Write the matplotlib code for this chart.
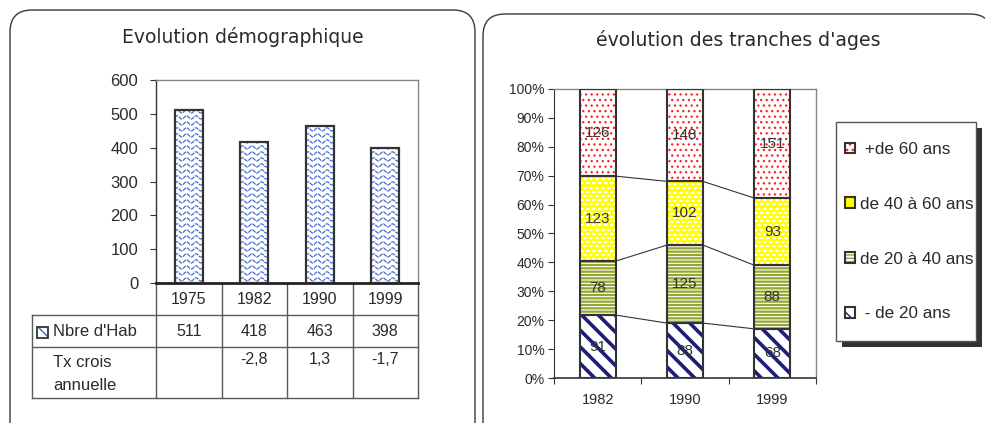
import numpy as np
import matplotlib
matplotlib.use('Agg')
import matplotlib.pyplot as plt
from matplotlib.patches import FancyBboxPatch, Rectangle
from matplotlib.transforms import blended_transform_factory

plt.rcParams['font.family'] = ['Liberation Sans', 'DejaVu Sans']
plt.rcParams['lines.scale_dashes'] = False
plt.rcParams['hatch.linewidth'] = 1.0

# ---------------- data ----------------
pop_title = "Evolution démographique"
years_pop = ['1975', '1982', '1990', '1999']
habitants = [511, 418, 463, 398]
taux_croissance = ['', '-2,8', '1,3', '-1,7']
pop_label = "Nbre d'Hab"
taux_label = "Tx crois\nannuelle"
pop_ticks = [0, 100, 200, 300, 400, 500, 600]

age_title = "évolution des tranches d'ages"
years_age = ['1982', '1990', '1999']
moins_20 = [91, 88, 68]
de_20_40 = [78, 125, 88]
de_40_60 = [123, 102, 93]
plus_60 = [126, 148, 151]
age_labels = [' - de 20 ans', 'de 20 à 40 ans', 'de 40 à 60 ans', ' +de 60 ans']
pct_ticks = [0, 10, 20, 30, 40, 50, 60, 70, 80, 90, 100]

# ---------------- figure ----------------
W, H = 985, 423
fig = plt.figure(figsize=(W / 100, H / 100), dpi=100)
TXT = '#2a2a2a'
EDGE = '#333333'


def px_axes(x0, y0, x1, y1):
    return fig.add_axes([x0 / W, 1 - y1 / H, (x1 - x0) / W, (y1 - y0) / H])


bg = fig.add_axes([0, 0, 1, 1])
bg.set_xlim(0, W)
bg.set_ylim(H, 0)
bg.axis('off')

for (x0, y0, x1, y1) in [(10, 10, 475, 448), (483, 14, 992, 448)]:
    bg.add_patch(FancyBboxPatch((x0, y0), x1 - x0, y1 - y0,
                                boxstyle='round,pad=0,rounding_size=22',
                                fc='white', ec='#3a3a3a', lw=1.0))

bg.text(243, 37, pop_title, ha='center', va='center', fontsize=13.5,
        family=['DejaVu Sans'], color=TXT)
bg.text(738, 40, age_title, ha='center', va='center', fontsize=13.6,
        family=['DejaVu Sans'], color=TXT)


def px_scale(ax):
    pos = ax.get_position()
    xl, yl = ax.get_xlim(), ax.get_ylim()
    return (xl[1] - xl[0]) / (pos.width * W), (yl[1] - yl[0]) / (pos.height * H)


def wave_texture(ax, patch, color, row_px=6.0, wl_px=9.5, amp_px=1.6, lw=0.85):
    sx, sy = px_scale(ax)
    bx, by = patch.get_x(), patch.get_y()
    bw, bh = patch.get_width(), patch.get_height()
    xs = np.linspace(bx, bx + bw, 300)
    for k in np.arange(by + row_px * sy * 0.6, by + bh + amp_px * sy, row_px * sy):
        ys = k + amp_px * sy * np.sin(2 * np.pi * (xs - bx) / (wl_px * sx))
        ln, = ax.plot(xs, ys, color=color, lw=lw, ls=(0, (3.0, 0.6)), zorder=2)
        ln.set_clip_path(patch)


def dash_texture(ax, patch, color, row_px=4.2, on_px=3.6, off_px=2.4, lw=1.5):
    sx, sy = px_scale(ax)
    bx, by = patch.get_x(), patch.get_y()
    bw, bh = patch.get_width(), patch.get_height()
    on, off = on_px * 0.72, off_px * 0.72
    for n, k in enumerate(np.arange(by + row_px * sy * 0.5, by + bh, row_px * sy)):
        offs = 0 if n % 2 == 0 else (on + off) / 2
        ln, = ax.plot([bx, bx + bw], [k, k], color=color, lw=lw,
                      ls=(offs, (on, off)), solid_capstyle='butt',
                      dash_capstyle='butt', zorder=2.5)
        ln.set_clip_path(patch)


# ---------------- left chart ----------------
ax1 = px_axes(156, 80, 418, 283)
xp = np.arange(len(years_pop))
ax1.set_xlim(-0.5, len(years_pop) - 0.5)
ax1.set_ylim(0, 600)
bars1 = ax1.bar(xp, habitants, width=0.43, facecolor='none', edgecolor=EDGE,
                linewidth=1.6, zorder=3)
for b in bars1:
    wave_texture(ax1, b, '#3f66cc')
ax1.set_yticks(pop_ticks)
ax1.set_xticks([])
ax1.tick_params(axis='y', direction='out', length=4.3, width=0.8, pad=8.5,
                labelsize=12, color='#333333', labelcolor=TXT)
for s in ['top', 'right']:
    ax1.spines[s].set_color('#8c8080')
    ax1.spines[s].set_linewidth(1.0)
ax1.spines['left'].set_color('#333333')
ax1.spines['left'].set_linewidth(1.0)
ax1.spines['bottom'].set_color('#222222')
ax1.spines['bottom'].set_linewidth(2.0)

# data table under left chart
lc = '#5a5a5a'
tr = blended_transform_factory(ax1.transData, bg.transData)
for y in [315, 347, 398]:
    bg.plot([32, 418], [y, y], color=lc, lw=1.0)
bg.plot([32, 32], [315, 398], color=lc, lw=1.0)
for i in range(len(years_pop) + 1):
    bg.plot([i - 0.5, i - 0.5], [283, 398], color=lc, lw=1.0, transform=tr)
for i, (yr, v, t) in enumerate(zip(years_pop, habitants, taux_croissance)):
    bg.text(i, 299, yr, ha='center', va='center', fontsize=11.5, color=TXT, transform=tr)
    bg.text(i, 331, str(v), ha='center', va='center', fontsize=11.5, color=TXT, transform=tr)
    bg.text(i, 360, t, ha='center', va='center', fontsize=11.5, color=TXT, transform=tr)
bg.text(53, 331, pop_label, ha='left', va='center', fontsize=12, color=TXT)
bg.text(53, 374, taux_label, ha='left', va='center', fontsize=12, color=TXT,
        linespacing=1.6)
key = Rectangle((37, 327), 11, 11, facecolor='white', edgecolor='#3d63c8', lw=0,
                hatch='\\\\\\')
bg.add_patch(key)
bg.add_patch(Rectangle((37, 327), 11, 11, facecolor='none', edgecolor=EDGE, lw=1.3))

# ---------------- right chart ----------------
ax2 = px_axes(554, 89, 816, 378)
xa = np.arange(len(years_age))
ax2.set_xlim(-0.5, len(years_age) - 0.5)
ax2.set_ylim(0, 1)

series = [moins_20, de_20_40, de_40_60, plus_60]
totals = np.sum(np.array(series), axis=0)
styles = [
    dict(fc='white', hc='#1d1d7c', hatch='\\\\', hlw=2.6),
    dict(fc='white', hc='#95a52e', hatch='-----', hlw=1.6),
    dict(fc='#ffff00', hc='#ffff00', hatch=None, hlw=1.0),
    dict(fc='white', hc='#ff2020', hatch='...', hlw=0.9),
]
BW = 0.41
bottom = np.zeros(len(years_age))
handles = []
tops = []
for vals, st in zip(series, styles):
    share = np.array(vals) / totals
    with plt.rc_context({'hatch.linewidth': st['hlw']}):
        hb = ax2.bar(xa, share, bottom=bottom, width=BW, facecolor=st['fc'],
                     edgecolor=st['hc'], linewidth=0, hatch=st['hatch'], zorder=2)
    for p in hb:
        if hasattr(p, 'set_hatch_linewidth'):
            p.set_hatch_linewidth(st['hlw'])
    if st['hatch'] is None:
        for p in hb:
            dash_texture(ax2, p, 'white')
    ob = ax2.bar(xa, share, bottom=bottom, width=BW, facecolor='none',
                 edgecolor=EDGE, linewidth=1.5, zorder=4)
    for j, v in enumerate(vals):
        ax2.text(xa[j], bottom[j] + share[j] / 2, str(v), ha='center', va='center',
                 fontsize=11, color='#333333', zorder=5)
    handles.append((hb, ob))
    bottom = bottom + share
    tops.append(bottom.copy())

# series lines
for top in tops[:-1]:
    for j in range(len(years_age) - 1):
        ax2.plot([xa[j] + BW / 2, xa[j + 1] - BW / 2], [top[j], top[j + 1]],
                 color='#333333', lw=0.8, zorder=1.5)

ax2.set_yticks(np.array(pct_ticks) / 100)
ax2.set_yticklabels([f'{p}%' for p in pct_ticks])
ax2.set_xticks(xa)
ax2.set_xticklabels(years_age)
ax2.set_xticks(np.arange(len(years_age) + 1) - 0.5, minor=True)
ax2.tick_params(axis='y', direction='out', length=4, width=0.8, pad=3,
                labelsize=10, color='#333333', labelcolor=TXT)
ax2.tick_params(axis='x', which='major', length=0, pad=11, labelsize=10.5,
                labelcolor=TXT)
ax2.tick_params(axis='x', which='minor', direction='out', length=4, width=0.8,
                color='#333333')
for s in ['top', 'right']:
    ax2.spines[s].set_color('#8c8080')
    ax2.spines[s].set_linewidth(1.0)
ax2.spines['left'].set_color('#333333')
ax2.spines['bottom'].set_color('#333333')
ax2.spines['bottom'].set_linewidth(1.2)

# legend box with shadow
bg.add_patch(Rectangle((842, 128), 140, 219, facecolor='#333333', edgecolor='none'))
bg.add_patch(Rectangle((836, 122), 140, 219, facecolor='white', edgecolor='#555555', lw=1.0))
ax2.legend(handles=handles[::-1], labels=age_labels[::-1], loc='upper left',
           bbox_to_anchor=(845 / W, 1 - 142 / H), bbox_transform=fig.transFigure,
           frameon=False, fontsize=12.3, handlelength=0.6, handleheight=0.6,
           handletextpad=0.25, labelspacing=2.33, borderpad=0, borderaxespad=0,
           labelcolor=TXT)

fig.savefig('out.png', dpi=100)
